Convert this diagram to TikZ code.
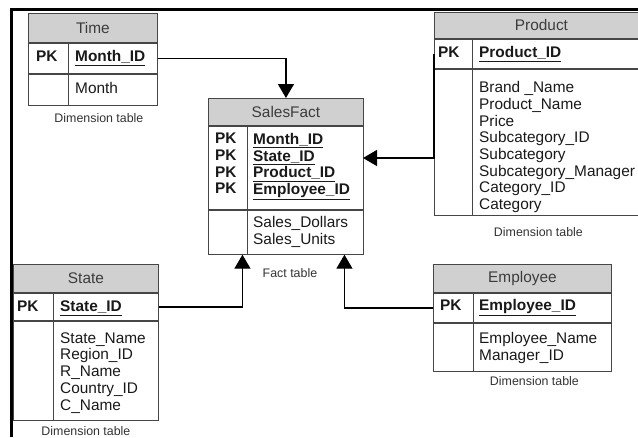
\documentclass[tikz,border=0pt]{standalone}
\usepackage{fontspec}
\setmainfont{Liberation Sans}
\usetikzlibrary{arrows.meta,positioning}
\definecolor{cHdr}{RGB}{208,208,208}
\definecolor{cLine}{RGB}{70,70,70}
\definecolor{cTxt}{RGB}{25,25,25}
\definecolor{cHdrTxt}{RGB}{60,60,60}
\definecolor{cLbl}{RGB}{50,50,50}
\newcommand{\tblfont}{\fontsize{15.4}{16.7}\selectfont\lineskiplimit=-20pt}
\newcommand{\lblfont}{\fontsize{12.4}{14}\selectfont}
\tikzset{tblhead/.style={
  draw=cLine,
  fill=cHdr,
  line width=0.9pt,
  anchor=north west,
  inner sep=0pt,
  text=cHdrTxt,
  font=\tblfont,
  }
}
\tikzset{tblrow/.style={
  draw=cLine,
  line width=0.9pt,
  anchor=north west,
  inner sep=0pt,
  }
}
\tikzset{keytxt/.style={
  anchor=base west,
  inner sep=0pt,
  text=cTxt,
  font=\tblfont\bfseries,
  }
}
\tikzset{fieldtxt/.style={
  anchor=north west,
  inner sep=0pt,
  align=left,
  text=cTxt,
  font=\tblfont,
  }
}
\tikzset{tbllabel/.style={
  inner sep=0pt,
  text=cLbl,
  font=\lblfont,
  }
}
\tikzset{divider/.style={draw=cLine, line width=0.9pt}}
\tikzset{fklink/.style={line width=1.4pt, -{Triangle[width=16pt,length=14pt]}}}
\tikzset{frameline/.style={line width=3pt, black}}

\begin{document}
\begin{tikzpicture}[x=1pt,y=-1pt]
  \path[use as bounding box, clip] (0,0) rectangle (638,437);
  \coordinate (frbl) at (11,437);
  \coordinate (frtl) at (11,9);
  \coordinate (frtr) at (638,9);
  \draw[frameline] (frbl) -- (frtl) -- (frtr);

  % Time
  \node[tblhead, minimum width=129pt, minimum height=29pt] (timehead) at (28,13) {Time};
  \node[tblrow, minimum width=129pt, minimum height=30pt] (timepk) at (timehead.south west) {};
  \node[tblrow, minimum width=129pt, minimum height=31pt] (timebody) at (timepk.south west) {};
  \draw[divider] ([xshift=40pt]timepk.north west) -- ([xshift=40pt]timebody.south west);
  \node[keytxt] (timek) at (36,61.5) {PK};
  \node[keytxt] (timeid) at (75,61.5) {\underline{Month\_ID}};
  \node[fieldtxt] (timeflds) at (75,82) {Month};
  \node[tbllabel, below=7.5pt of timebody, xshift=6pt] (timelbl) {Dimension table};

  % SalesFact
  \node[tblhead, minimum width=155pt, minimum height=27pt] (facthead) at (208,98) {SalesFact};
  \node[tblrow, minimum width=155pt, minimum height=83pt] (factpk) at (facthead.south west) {};
  \node[tblrow, minimum width=155pt, minimum height=44pt] (factbody) at (factpk.south west) {};
  \draw[divider] ([xshift=39pt]factpk.north west) -- ([xshift=39pt]factbody.south west);
  \node[fieldtxt, font=\tblfont\bfseries] (factk) at (215,133) {PK\\PK\\PK\\PK};
  \node[fieldtxt, font=\tblfont\bfseries] (factids) at (253,133)
    {\underline{Month\_ID}\\\underline{State\_ID}\\\underline{Product\_ID}\\\underline{Employee\_ID}};
  \node[fieldtxt] (factflds) at (253,216.5) {Sales\_Dollars\\Sales\_Units};
  \node[tbllabel, below=13.5pt of factbody, xshift=4pt] (factlbl) {Fact table};
  \coordinate (factinS) at ([xshift=-43.5pt]factbody.south);
  \coordinate (factinE) at ([xshift=58.5pt]factbody.south);
  \coordinate (factinP) at (363,158);

  % Product
  \node[tblhead, minimum width=214pt, minimum height=26pt] (prodhead) at (434,12) {Product};
  \node[tblrow, minimum width=214pt, minimum height=29pt] (prodpk) at (prodhead.south west) {};
  \node[tblrow, minimum width=214pt, minimum height=146pt] (prodbody) at (prodpk.south west) {};
  \draw[divider] ([xshift=38pt]prodpk.north west) -- ([xshift=38pt]prodbody.south west);
  \node[keytxt] (prodk) at (438,57.5) {PK};
  \node[keytxt] (prodid) at (479,57.5) {\underline{Product\_ID}};
  \node[fieldtxt] (prodflds) at (479,81.3)
    {Brand \_Name\\Product\_Name\\Price\\Subcategory\_ID\\Subcategory\\Subcategory\_Manager\\Category\_ID\\Category};
  \node[tbllabel, below=11.5pt of prodbody, xshift=-3pt] (prodlbl) {Dimension table};

  % State
  \node[tblhead, minimum width=145pt, minimum height=28pt] (statehead) at (13,264) {State};
  \node[tblrow, minimum width=145pt, minimum height=27pt] (statepk) at (statehead.south west) {};
  \node[tblrow, minimum width=145pt, minimum height=99pt] (statebody) at (statepk.south west) {};
  \draw[divider] ([xshift=40pt]statepk.north west) -- ([xshift=40pt]statebody.south west);
  \node[keytxt] (statek) at (17,311.5) {PK};
  \node[keytxt] (stateid) at (60,311.5) {\underline{State\_ID}};
  \node[fieldtxt] (stateflds) at (60,332.3)
    {State\_Name\\Region\_ID\\R\_Name\\Country\_ID\\C\_Name};
  \node[tbllabel, below=5.5pt of statebody] (statelbl) {Dimension table};

  % Employee
  \node[tblhead, minimum width=178pt, minimum height=28pt] (emphead) at (433,264) {Employee};
  \node[tblrow, minimum width=178pt, minimum height=29pt] (emppk) at (emphead.south west) {};
  \node[tblrow, minimum width=178pt, minimum height=48pt] (empbody) at (emppk.south west) {};
  \draw[divider] ([xshift=40pt]emppk.north west) -- ([xshift=40pt]empbody.south west);
  \node[keytxt] (empk) at (440,310.5) {PK};
  \node[keytxt] (empid) at (479,310.5) {\underline{Employee\_ID}};
  \node[fieldtxt] (empflds) at (479,332.3) {Employee\_Name\\Manager\_ID};
  \node[tbllabel, below=4.5pt of empbody, xshift=12pt] (emplbl) {Dimension table};

  % links
  \draw[fklink] (timepk.east) -| (facthead.north);
  \draw[fklink] (prodpk.west) |- (factinP);
  \draw[fklink] (statepk.east) -| (factinS);
  \draw[fklink] (emppk.west) -| (factinE);
\end{tikzpicture}
\end{document}
